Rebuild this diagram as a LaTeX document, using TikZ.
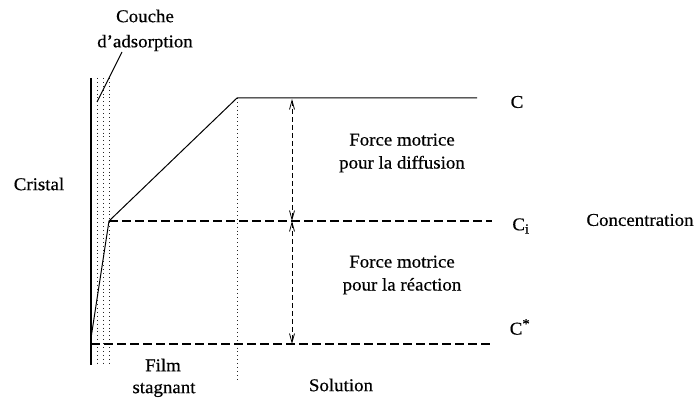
\documentclass[tikz,border=0pt]{standalone}
\usepackage{fontspec}
\setmainfont[FakeStretch=1.05,FakeBold=0.5]{Liberation Serif}
\usetikzlibrary{arrows.meta}
\begin{document}
\begin{tikzpicture}[x=1pt,y=-1pt,
  lbl/.style={inner sep=0pt,font=\fontsize{18}{23}\selectfont,align=center},
  dotcol/.style={line width=0.9pt,dash pattern=on 0.9pt off 3pt,black!85},
  dashline/.style={line width=1.1pt,dash pattern=on 9pt off 4pt},
  arrowline/.style={line width=0.8pt,dash pattern=on 5pt off 3pt,
    {Straight Barb[length=9pt,width=5pt]}-{Straight Barb[length=9pt,width=5pt]}},
  profile/.style={line width=1pt}]
\useasboundingbox (0,0) rectangle (699,403);
% crystal surface and adsorption layer
\coordinate (s1) at (91,78);
\coordinate (s2) at (91,365);
\draw[line width=1.1pt] (s1) -- (s2);
\foreach \x in {97,103,109}{
  \coordinate (d1) at (\x,78);
  \coordinate (d2) at (\x,366);
  \draw[dotcol] (d1) -- (d2);
}
% film boundary
\coordinate (f1) at (237,98);
\coordinate (f2) at (237,380);
\draw[dotcol] (f1) -- (f2);
% concentration profile
\coordinate (p0) at (91,338);
\coordinate (p1) at (109,221);
\coordinate (p2) at (237,98);
\coordinate (p3) at (477,98);
\draw[profile] (p0) -- (p1) -- (p2) -- (p3);
% dashed levels
\coordinate (ci1) at (109,221);
\coordinate (ci2) at (492,221);
\draw[dashline] (ci1) -- (ci2);
\coordinate (cs1) at (91,344);
\coordinate (cs2) at (490,344);
\draw[dashline] (cs1) -- (cs2);
% arrows
\coordinate (a1) at (292,99);
\coordinate (a2) at (292,221);
\coordinate (a3) at (292,344);
\draw[arrowline] (a1) -- (a2);
\draw[arrowline] (a2) -- (a3);
% labels
\node[lbl] (C) at (517,102) {C};
\node[lbl] (Ci) at (521,226) {C\textsubscript{\fontsize{14}{14}\selectfont i}};
\node[lbl] (Cs) at (520,327) {C\textsuperscript{\fontsize{14}{14}\selectfont *}};
\node[lbl] (conc) at (640,220) {Concentration};
\node[lbl] (crist) at (39,184) {Cristal};
\node[lbl] (couche1) at (145,16) {Couche};
\node[lbl] (couche2) at (145,43) {d’adsorption};
\node[lbl] (film1) at (163,365) {Film};
\node[lbl] (film2) at (164,390) {stagnant};
\node[lbl] (sol) at (341,385) {Solution};
\node[lbl] (fd) at (402,153) {Force motrice\\pour la diffusion};
\node[lbl] (fr) at (402,275) {Force motrice\\pour la réaction};
% leader
\coordinate (lead1) at (122,52);
\coordinate (lead2) at (97,102);
\draw[line width=0.9pt] (lead1) -- (lead2);
\end{tikzpicture}
\end{document}
